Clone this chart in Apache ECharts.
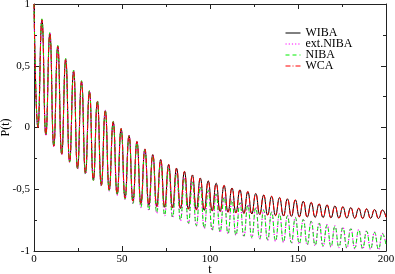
<!DOCTYPE html>
<html><head><meta charset="utf-8">
<script src="https://cdn.jsdelivr.net/npm/echarts@6/dist/echarts.min.js"></script>
<style>html,body{margin:0;padding:0;background:#fff}#c{width:395px;height:274px}</style>
</head><body><div id="c"></div>
<script>
// Times of the successive extrema (peaks / troughs), last = t end
const tExt = [0,2.25,4.5,6.75,9,11.25,13.5,15.75,18,20.25,22.5,24.75,27,29.25,31.5,33.75,36,38.25,40.5,42.75,45,47.25,49.5,51.75,54,56.25,58.5,60.75,63,65.25,67.5,69.75,72,74.25,76.5,78.75,81,83.25,85.5,87.75,90,92.25,94.5,96.75,99,101.25,103.5,105.75,108,110.25,112.5,114.75,117,119.25,121.5,123.75,126,128.25,130.5,132.75,135,137.25,139.5,141.75,144,146.25,148.5,150.75,153,155.25,157.5,159.75,162,164.25,166.5,168.75,171,173.25,175.5,177.75,180,182.25,184.5,186.75,189,191.25,193.5,195.75,198,200];

const wiba = [1.0,0.0,0.87,-0.06,0.76,-0.15,0.655,-0.215,0.55,-0.277,0.455,-0.33,0.37,-0.37,0.29,-0.425,0.21,-0.466,0.135,-0.506,0.045,-0.54,-0.01,-0.57,-0.065,-0.595,-0.115,-0.615,-0.175,-0.628,-0.22,-0.638,-0.26,-0.645,-0.30,-0.65,-0.33,-0.655,-0.357,-0.66,-0.385,-0.665,-0.41,-0.67,-0.433,-0.675,-0.452,-0.68,-0.47,-0.685,-0.49,-0.69,-0.505,-0.695,-0.52,-0.70,-0.535,-0.704,-0.547,-0.708,-0.558,-0.712,-0.568,-0.716,-0.578,-0.719,-0.587,-0.722,-0.598,-0.725,-0.608,-0.727,-0.62,-0.729,-0.628,-0.731,-0.636,-0.732,-0.643,-0.733,-0.649,-0.734,-0.655,-0.735,-0.66,-0.735,-0.665,-0.736,-0.668,-0.725];

const extNiba = [1.0,0.0,0.875,-0.065,0.765,-0.155,0.66,-0.22,0.555,-0.282,0.46,-0.338,0.375,-0.378,0.295,-0.433,0.215,-0.473,0.138,-0.513,0.048,-0.548,-0.008,-0.583,-0.068,-0.618,-0.122,-0.648,-0.178,-0.673,-0.228,-0.694,-0.278,-0.714,-0.327,-0.73,-0.367,-0.755,-0.407,-0.779,-0.442,-0.799,-0.477,-0.819,-0.507,-0.834,-0.537,-0.849,-0.562,-0.862,-0.587,-0.874,-0.607,-0.884,-0.627,-0.894,-0.647,-0.904,-0.667,-0.914,-0.682,-0.922,-0.697,-0.93,-0.712,-0.937,-0.727,-0.944,-0.742,-0.951,-0.757,-0.957,-0.772,-0.963,-0.787,-0.968,-0.797,-0.972,-0.807,-0.976,-0.817,-0.98,-0.827,-0.983,-0.837,-0.986,-0.847,-0.989,-0.857,-0.95];

const niba = [1.0,0.0,0.88,-0.06,0.77,-0.15,0.665,-0.215,0.56,-0.28,0.465,-0.335,0.38,-0.375,0.30,-0.43,0.22,-0.47,0.14,-0.51,0.05,-0.545,-0.01,-0.58,-0.07,-0.615,-0.125,-0.645,-0.18,-0.67,-0.23,-0.69,-0.28,-0.71,-0.33,-0.725,-0.37,-0.75,-0.41,-0.775,-0.445,-0.795,-0.48,-0.815,-0.51,-0.83,-0.54,-0.845,-0.565,-0.858,-0.59,-0.87,-0.61,-0.88,-0.63,-0.89,-0.65,-0.9,-0.67,-0.91,-0.685,-0.918,-0.70,-0.926,-0.715,-0.933,-0.73,-0.94,-0.745,-0.947,-0.76,-0.953,-0.775,-0.959,-0.79,-0.964,-0.80,-0.968,-0.81,-0.972,-0.82,-0.976,-0.83,-0.979,-0.84,-0.982,-0.85,-0.985,-0.86,-0.95];

const wca = [1.0,0.0,0.872,-0.062,0.762,-0.152,0.657,-0.217,0.552,-0.279,0.457,-0.332,0.372,-0.372,0.292,-0.427,0.212,-0.468,0.137,-0.508,0.047,-0.542,-0.008,-0.572,-0.063,-0.597,-0.113,-0.617,-0.173,-0.63,-0.218,-0.64,-0.258,-0.647,-0.298,-0.652,-0.328,-0.657,-0.355,-0.662,-0.383,-0.667,-0.408,-0.672,-0.431,-0.677,-0.45,-0.682,-0.468,-0.687,-0.488,-0.692,-0.503,-0.697,-0.518,-0.702,-0.533,-0.706,-0.545,-0.71,-0.556,-0.714,-0.566,-0.718,-0.576,-0.721,-0.585,-0.724,-0.596,-0.727,-0.606,-0.729,-0.618,-0.731,-0.626,-0.733,-0.634,-0.734,-0.641,-0.735,-0.647,-0.736,-0.653,-0.737,-0.658,-0.737,-0.663,-0.738,-0.666,-0.727];

const xTicks = [0,50,100,150,200];
const yTicks = [-1,-0.5,0,0.5,1];
const seriesNames = ['WIBA','ext.NIBA','NIBA','WCA'];

const serif = '"Liberation Serif","DejaVu Serif",serif';
const axisCol = '#222';
function pairs(v){ return tExt.map((t,i)=>[t, v[i]]); }
function fmtY(v){ return String(v).replace('.', ','); }

const baseAxis = {
  axisLine:{show:true,onZero:false,lineStyle:{color:axisCol,width:1}},
  axisTick:{show:true,inside:true,length:5,lineStyle:{color:axisCol}},
  minorTick:{show:true,splitNumber:2,length:3,lineStyle:{color:axisCol}},
  splitLine:{show:false}
};

const chart = echarts.init(document.getElementById('c'), null, {renderer:'canvas'});
chart.setOption({
  animation:false,
  backgroundColor:'#fff',
  grid:{left:34,right:9,top:4,bottom:23,containLabel:false,outerBoundsMode:'none'},
  legend:{
    orient:'vertical', left:285, top:27, padding:0, itemWidth:15, itemHeight:8, itemGap:-1,
    lineStyle:{width:1},
    textStyle:{fontFamily:serif,fontSize:12,lineHeight:12,color:'#000'},
    data:seriesNames
  },
  xAxis:[
    Object.assign({}, baseAxis, {type:'value',min:xTicks[0],max:xTicks[xTicks.length-1],interval:50,position:'bottom',
      name:'t',nameLocation:'middle',nameGap:13,nameMoveOverlap:false,nameTextStyle:{fontFamily:serif,fontSize:12,color:'#000'},
      axisLabel:{show:true,margin:3,fontFamily:serif,fontSize:11,color:'#000'}}),
    Object.assign({}, baseAxis, {type:'value',min:0,max:200,interval:50,position:'top',axisLabel:{show:false}})
  ],
  yAxis:[
    Object.assign({}, baseAxis, {type:'value',min:yTicks[0],max:yTicks[yTicks.length-1],interval:0.5,position:'left',
      name:'P(t)',nameLocation:'middle',nameGap:22,nameRotate:90,nameMoveOverlap:false,nameTextStyle:{fontFamily:serif,fontSize:12,color:'#000'},
      axisLabel:{show:true,margin:4,fontFamily:serif,fontSize:11,color:'#000',formatter:fmtY}}),
    Object.assign({}, baseAxis, {type:'value',min:-1,max:1,interval:0.5,position:'right',axisLabel:{show:false}})
  ],
  series:[
    {name:'WIBA',type:'line',data:pairs(wiba),smooth:0.5,symbol:'none',lineStyle:{color:'#000',width:1,type:'solid'},itemStyle:{color:'#000',opacity:0}},
    {name:'ext.NIBA',type:'line',data:pairs(extNiba),smooth:0.5,symbol:'none',lineStyle:{color:'#ff00ff',width:1.2,type:[1.2,2]},itemStyle:{color:'#ff00ff',opacity:0}},
    {name:'NIBA',type:'line',data:pairs(niba),smooth:0.5,symbol:'none',lineStyle:{color:'#00ee00',width:1,type:[4,3]},itemStyle:{color:'#00ee00',opacity:0}},
    {name:'WCA',type:'line',data:pairs(wca),smooth:0.5,symbol:'none',lineStyle:{color:'#ff0000',width:1,type:[5,2,1,2]},itemStyle:{color:'#ff0000',opacity:0}}
  ]
});
</script></body></html>
